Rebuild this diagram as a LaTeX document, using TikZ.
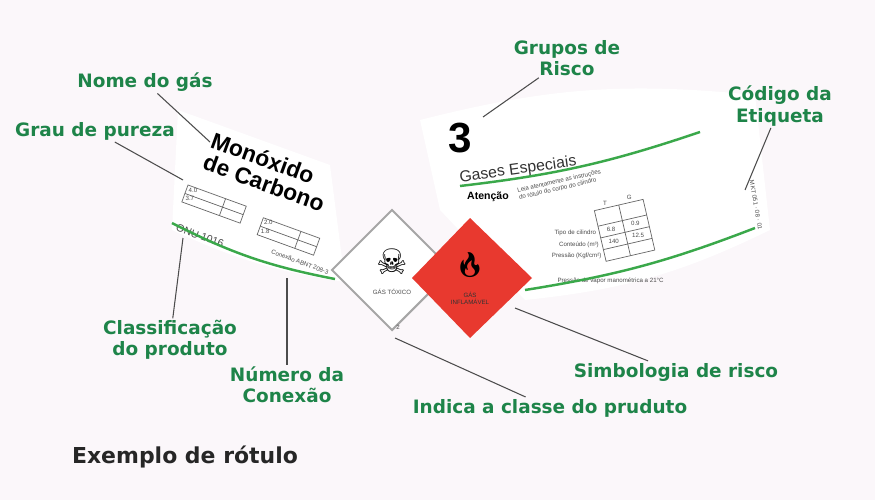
\documentclass[tikz,border=0pt]{standalone}
\usepackage{fontspec}
\setmainfont{DejaVu Sans}
\newfontfamily\lblfont{Liberation Sans}
\newfontfamily\emojifont{Noto Emoji}
\usetikzlibrary{positioning}
\definecolor{callgreen}{HTML}{1E8449}
\definecolor{stripe}{HTML}{3AA84A}
\definecolor{hazred}{HTML}{E8392F}
\definecolor{paper}{HTML}{FBF7FA}

\begin{document}
\begin{tikzpicture}[x=0.02cm,y=-0.02cm,
    callout/.style={font=\bfseries\fontsize{10.5}{12}\selectfont, text=callgreen, align=center, inner sep=1pt},
    lead/.style={draw=black!70, line width=0.6pt},
    band/.style={draw=stripe, line width=1.4pt},
    tiny/.style={font=\lblfont\fontsize{3.5}{4}\selectfont, text=black!70, inner sep=0pt},
    cell/.style={draw=black!60, line width=0.4pt},
]
\fill[paper] (0,0) rectangle (875,500);
\useasboundingbox (0,0) rectangle (875,500);

% Label panels
\fill[white] (178,110) -- (330,165) -- (345,282) to[bend left=8] (172,230) -- cycle;
\fill[white] (420,120) to[bend left=10] (755,95) -- (770,230) to[bend left=10] (525,300) -- (440,210) -- cycle;

% Left panel
\node[font=\lblfont\bfseries\fontsize{13}{13}\selectfont, rotate=-20, align=left, inner sep=0pt] (gas) at (268,172) {Monóxido\\de Carbono};
\begin{scope}[rotate around={-20:(188,185)}]
  \draw[cell] (188,185) rectangle (250,203); \draw[cell] (188,194) -- (250,194); \draw[cell] (228,185) -- (228,203);
  \node[tiny, anchor=west] at (190,189.5) {4.0};
  \node[tiny, anchor=west] at (190,198.5) {3.7};
  \draw[cell] (270,190) rectangle (330,208); \draw[cell] (270,199) -- (330,199); \draw[cell] (310,190) -- (310,208);
  \node[tiny, anchor=west] at (272,194.5) {2.0};
  \node[tiny, anchor=west] at (272,203.5) {1.8};
\end{scope}
\node[font=\lblfont\fontsize{6}{7}\selectfont, rotate=-20, text=black!70] (onu) at (200,236) {ONU 1016};
\node[tiny, rotate=-20] (conn) at (300,262) {Conexão ABNT 208-3};
\draw[band] (172,223) to[bend right=8] (335,279);

% Hazard diamonds
\fill[white, draw=black!35, line width=1.2pt] (392,210) -- (452,270) -- (392,330) -- (332,270) -- cycle;
\node[font=\fontsize{20}{20}\selectfont] (skull) at (392,262) {☠};
\node[tiny] (toxic) at (392,292) {GÁS TÓXICO};
\node[tiny] (classno) at (398,327) {2};
\fill[hazred] (470,218) -- (532,278) -- (470,338) -- (412,278) -- cycle;
\node[font=\emojifont\fontsize{14}{14}\selectfont] (flame) at (470,265) {🔥};
\node[tiny, text=black!80, align=center] (flam) at (470,298) {GÁS\\INFLAMÁVEL};

% Right panel
\node[font=\lblfont\bfseries\fontsize{24}{24}\selectfont, inner sep=0pt] (risk) at (460,138) {3};
\node[font=\lblfont\fontsize{9}{10}\selectfont, rotate=8, text=black!80] (spec) at (518,170) {Gases Especiais};
\draw[band] (460,186) to[bend right=6] (700,132);
\node[font=\lblfont\bfseries\fontsize{6}{7}\selectfont] (att) at (488,197) {Atenção};
\node[tiny, rotate=13, align=left] (read) at (560,185) {Leia atentamente as instruções\\do rótulo do corpo do cilindro};
\begin{scope}[rotate around={13:(600,235)}]
  \draw[cell] (600,210) rectangle (650,262);
  \draw[cell] (625,210) -- (625,262);
  \draw[cell] (600,226) -- (650,226); \draw[cell] (600,238) -- (650,238); \draw[cell] (600,250) -- (650,250);
  \node[tiny] at (612,205) {T}; \node[tiny] at (637,205) {G};
  \node[tiny] at (612,232) {6.8}; \node[tiny] at (637,232) {0.9};
  \node[tiny] at (612,244) {140}; \node[tiny] at (637,244) {12.5};
  \node[tiny, anchor=east] at (597,232) {Tipo de cilindro};
  \node[tiny, anchor=east] at (597,244) {Conteúdo (m³)};
  \node[tiny, anchor=east] at (597,256) {Pressão (Kgf/cm²)};
  \node[tiny, anchor=west] at (548,270) {Pressão de vapor manométrica a 21°C};
\end{scope}
\node[tiny, rotate=-80] (code) at (756,205) {MKT 051 · 08 · 01};
\draw[band] (525,290) to[bend right=6] (755,228);

% Callouts
\node[callout] (name) at (145,82) {Nome do gás};
\node[callout] (purity) at (95,131) {Grau de pureza};
\node[callout] (group) at (567,58) {Grupos de\\Risco};
\node[callout] (tag) at (780,106) {Código da\\Etiqueta};
\node[callout] (classif) at (170,340) {Classificação\\do produto};
\node[callout] (connum) at (287,385) {Número da\\Conexão};
\node[callout] (symb) at (676,372) {Simbologia de risco};
\node[callout] (classind) at (550,408) {Indica a classe do pruduto};
\node[font=\bfseries\fontsize{12.5}{14}\selectfont, text=black!85] (title) at (185,457) {Exemplo de rótulo};

\draw[lead] (name) -- (210,142);
\draw[lead] (purity) -- (183,180);
\draw[lead] (group) -- (483,117);
\draw[lead] (tag) -- (745,190);
\draw[lead] (classif) -- (183,238);
\draw[lead] (connum) -- (287,278);
\draw[lead] (symb) -- (515,308);
\draw[lead] (classind) -- (395,338);
\end{tikzpicture}
\end{document}
